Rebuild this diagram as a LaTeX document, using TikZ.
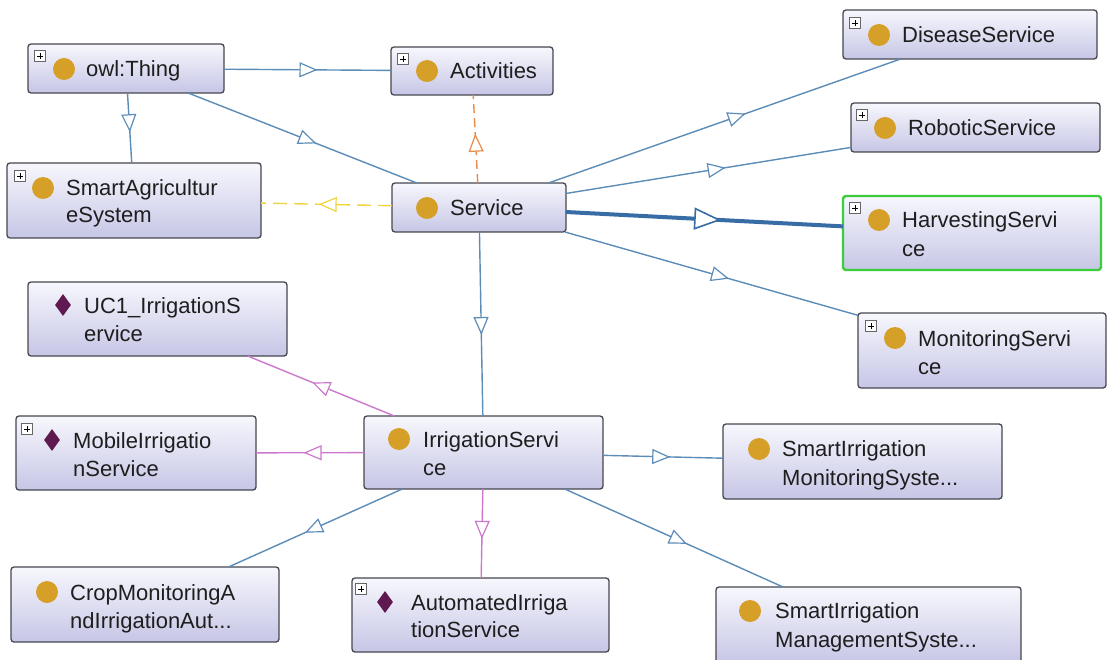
\documentclass[tikz,border=0pt]{standalone}
\usepackage{fontspec}
\setmainfont{Liberation Sans}
\usetikzlibrary{arrows.meta,decorations.markings,fit,shapes.geometric}
\definecolor{boxline}{RGB}{70,70,80}
\definecolor{boxtop}{RGB}{247,247,253}
\definecolor{boxbot}{RGB}{198,198,230}
\definecolor{gold}{RGB}{214,160,40}
\definecolor{purp}{RGB}{96,24,80}
\definecolor{edgeblue}{RGB}{92,140,184}
\definecolor{edgepink}{RGB}{204,120,204}
\definecolor{edgeorange}{RGB}{232,140,72}
\definecolor{edgeyellow}{RGB}{240,212,64}
\definecolor{harvblue}{RGB}{56,108,164}
\definecolor{selgreen}{RGB}{60,205,60}
\definecolor{txt}{RGB}{30,30,30}
\tikzset{
  box/.style={draw=boxline, line width=1.3pt, rounded corners=3pt, top color=boxtop, bottom color=boxbot, inner sep=0pt, outer sep=0pt},
  selbox/.style={box, draw=selgreen, line width=2.4pt},
  lbl/.style={font=\fontsize{22}{28}\selectfont, text=txt, anchor=base west, inner sep=0pt},
  cls/.style={circle, fill=gold, minimum size=22pt, inner sep=0pt},
  ind/.style={diamond, fill=purp, minimum width=16pt, minimum height=22pt, inner sep=0pt},
  plusbox/.style={draw=gray!80!black, fill=white, minimum size=11pt, inner sep=0pt, line width=0.6pt,
    path picture={\draw[line width=0.9pt,black] ([xshift=-3pt]path picture bounding box.center) -- ([xshift=3pt]path picture bounding box.center);
                  \draw[line width=0.9pt,black] ([yshift=-3pt]path picture bounding box.center) -- ([yshift=3pt]path picture bounding box.center);}},
  isa/.style={line width=1.4pt, postaction={decorate}, decoration={markings, mark=at position 0.56 with {\arrow{Triangle[length=18pt,width=15pt,fill=white,line width=1.2pt]}}}},
  isabig/.style={line width=4pt, postaction={decorate}, decoration={markings, mark=at position 0.56 with {\arrow{Triangle[length=27pt,width=22pt,fill=white,line width=1.6pt]}}}}
}
\begin{document}
\begin{tikzpicture}[x=1pt,y=-1pt]
\useasboundingbox[fill=white] (0,0) rectangle (1107,660);

% boxes
\node[box, fit={(28,44) (224,93)}] (owl) {};
\node[box, fit={(391,47) (553,95)}] (act) {};
\node[box, fit={(843,10) (1097,59)}] (dis) {};
\node[box, fit={(851,103) (1100,152)}] (rob) {};
\node[selbox, fit={(843,196) (1101,270)}] (har) {};
\node[box, fit={(858,313) (1106,388)}] (mon) {};
\node[box, fit={(7,163) (261,238)}] (sas) {};
\node[box, fit={(392,183) (566,232)}] (ser) {};
\node[box, fit={(28,282) (287,356)}] (uc1) {};
\node[box, fit={(16,416) (256,490)}] (mob) {};
\node[box, fit={(364,416) (603,489)}] (irr) {};
\node[box, fit={(723,424) (1002,499)}] (sim) {};
\node[box, fit={(11,567) (279,642)}] (crop) {};
\node[box, fit={(352,578) (609,652)}] (aut) {};
\node[box, fit={(716,587) (1021,664)}] (simm) {};

% edges
\draw[isa, edgeblue] (owl) -- (act);
\draw[isa, edgeblue] (owl) -- (sas);
\draw[isa, edgeblue] (owl) -- (ser);
\draw[isa, edgeorange, dash pattern=on 9pt off 5pt] (ser) -- (act);
\draw[isa, edgeyellow, dash pattern=on 14pt off 7pt] (ser) -- (sas);
\draw[isa, edgeblue] (ser) -- (dis);
\draw[isa, edgeblue] (ser) -- (rob);
\draw[isabig, harvblue] (ser) -- (har);
\draw[isa, edgeblue] (ser) -- (mon);
\draw[isa, edgeblue] (ser) -- (irr);
\draw[isa, edgepink] (irr) -- (uc1);
\draw[isa, edgepink] (irr) -- (mob);
\draw[isa, edgepink] (irr) -- (aut);
\draw[isa, edgeblue] (irr) -- (crop);
\draw[isa, edgeblue] (irr) -- (sim);
\draw[isa, edgeblue] (irr) -- (simm);

% icons
\node[cls] (owl-i) at (64,69) {};
\node[plusbox] (owl-p) at (40,56) {};
\node[cls] (act-i) at (427,71) {};
\node[plusbox] (act-p) at (403,59) {};
\node[cls] (dis-i) at (879,35) {};
\node[plusbox] (dis-p) at (855,23) {};
\node[cls] (rob-i) at (885,128) {};
\node[plusbox] (rob-p) at (862,115) {};
\node[cls] (har-i) at (879,220) {};
\node[plusbox] (har-p) at (855,208) {};
\node[cls] (mon-i) at (895,338) {};
\node[plusbox] (mon-p) at (871,326) {};
\node[cls] (sas-i) at (43,188) {};
\node[plusbox] (sas-p) at (20,176) {};
\node[cls] (ser-i) at (427,208) {};
\node[ind] (uc1-i) at (63,305) {};
\node[ind] (mob-i) at (52,440) {};
\node[plusbox] (mob-p) at (27,429) {};
\node[cls] (irr-i) at (399,439) {};
\node[cls] (sim-i) at (759,449) {};
\node[cls] (crop-i) at (47,592) {};
\node[ind] (aut-i) at (385,602) {};
\node[plusbox] (aut-p) at (361,589) {};
\node[cls] (simm-i) at (750,611) {};

% labels
\node[lbl] (owl-t) at (86,77) {owl:Thing};
\node[lbl] (act-t) at (450,79) {Activities};
\node[lbl] (dis-t) at (902,43) {DiseaseService};
\node[lbl] (rob-t) at (908,136) {RoboticService};
\node[lbl] (har-t1) at (902,228) {HarvestingServi};
\node[lbl] (har-t2) at (902,256) {ce};
\node[lbl] (mon-t1) at (918,346) {MonitoringServi};
\node[lbl] (mon-t2) at (918,374) {ce};
\node[lbl] (sas-t1) at (66,196) {SmartAgricultur};
\node[lbl] (sas-t2) at (66,223) {eSystem};
\node[lbl] (ser-t) at (450,216) {Service};
\node[lbl] (uc1-t1) at (84,313) {UC1\_IrrigationS};
\node[lbl] (uc1-t2) at (84,341) {ervice};
\node[lbl] (mob-t1) at (73,448) {MobileIrrigatio};
\node[lbl] (mob-t2) at (73,476) {nService};
\node[lbl] (irr-t1) at (423,447) {IrrigationServi};
\node[lbl] (irr-t2) at (423,475) {ce};
\node[lbl] (sim-t1) at (782,456) {SmartIrrigation};
\node[lbl] (sim-t2) at (782,485) {MonitoringSyste...};
\node[lbl] (crop-t1) at (70,600) {CropMonitoringA};
\node[lbl] (crop-t2) at (70,628) {ndIrrigationAut...};
\node[lbl] (aut-t1) at (411,610) {AutomatedIrriga};
\node[lbl] (aut-t2) at (411,637) {tionService};
\node[lbl] (simm-t1) at (775,618) {SmartIrrigation};
\node[lbl] (simm-t2) at (775,647) {ManagementSyste...};
\end{tikzpicture}
\end{document}
